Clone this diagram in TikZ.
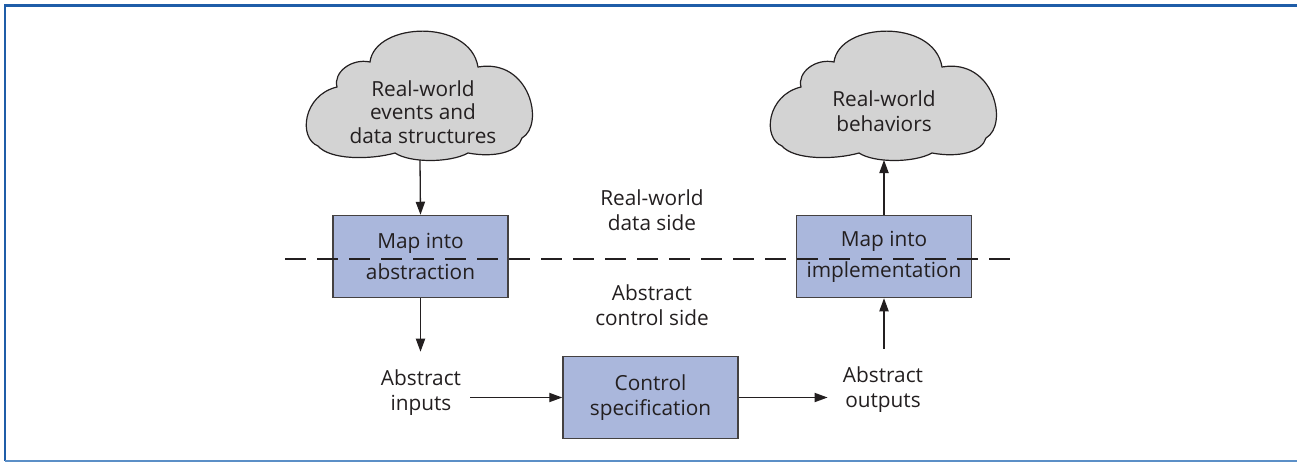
\documentclass[tikz,border=0pt]{standalone}
\usepackage{fontspec}
\setmainfont{Open Sans}
\usetikzlibrary{arrows.meta}

\definecolor{framedark}{HTML}{1F5DA8}
\definecolor{framelight}{HTML}{5B8FC7}
\definecolor{boxfill}{HTML}{AAB7DC}
\definecolor{cloudfill}{HTML}{D3D3D3}
\definecolor{ink}{HTML}{231F20}

% outline of a thought cloud, in picture units (y grows downwards)
\def\cloudoutline{(318,146)
  .. controls (298,138) and (303,95) .. (337,87)
  .. controls (333,72) and (352,58) .. (370,62)
  .. controls (375,22) and (470,18) .. (478,67)
  .. controls (530,58) and (545,125) .. (522,138)
  .. controls (518,152) and (495,158) .. (468,153)
  .. controls (450,163) and (410,163) .. (395,153)
  .. controls (370,160) and (330,160) .. cycle}

\tikzset{
  txt/.style={font=\fontsize{10.4}{12.5}\selectfont, text=ink, align=center, inner sep=0pt},
  mapbox/.style={draw=ink!85, line width=0.75pt, fill=boxfill,
    minimum width=87.5pt, minimum height=41pt,
    font=\fontsize{10.4}{15.5}\selectfont, text=ink, align=center, inner sep=0pt},
  ctrlbox/.style={mapbox, font=\fontsize{10.4}{12.5}\selectfont},
  cloudbody/.style={draw=ink, line width=0.6pt, fill=cloudfill},
  flow/.style={draw=ink, line width=0.65pt, -{Triangle[length=6.5pt,width=4.6pt]}},
  sideline/.style={draw=ink, line width=0.6pt, dash pattern=on 10.5pt off 5.5pt},
}

\begin{document}
\begin{tikzpicture}[x=0.5pt, y=-0.5pt]
  \useasboundingbox (0,0) rectangle (1297,462);

  % frame
  \draw[framedark, line width=1.5pt] (4,5.3) -- (1297,5.3);
  \draw[framedark, line width=1.2pt] (5.2,4) -- (5.2,461);
  \draw[framelight, line width=0.8pt] (5,460.8) -- (1297,460.8);

  % clouds
  \path[cloudbody] \cloudoutline;
  \begin{scope}[shift={(464,0)}]
    \path[cloudbody] \cloudoutline;
  \end{scope}
  \coordinate (c1b) at (420,160);
  \coordinate (c2b) at (884,160);
  \node[txt, font=\fontsize{10.4}{11.8}\selectfont] (events) at (423,112)
    {Real-world\\events and\\data structures};
  \node[txt] (behav) at (884,111) {Real-world\\behaviors};

  % boxes
  \node[mapbox] (abst) at (420.5,256.5) {Map into\\abstraction};
  \node[mapbox] (impl) at (884,256.5) {Map into\\implementation};
  \node[ctrlbox] (ctrl) at (650.5,397.5) {Control\\specification};

  % boundary between the two sides
  \coordinate (dl) at (285,259);
  \coordinate (dr) at (1010,259);
  \draw[sideline] (dl) -- (dr);

  \node[txt] (datas) at (652,210) {Real-world\\data side};
  \node[txt] (ctrls) at (652,305) {Abstract\\control side};

  % abstract inputs and outputs
  \node[txt] (inputs) at (421,393) {Abstract\\inputs};
  \node[txt] (outputs) at (883,390) {Abstract\\outputs};

  % connectors
  \draw[flow] (c1b) -- (abst.north);
  \draw[flow, shorten >=9pt] (abst.south) -- (abst.south |- inputs.north);
  \draw[flow, shorten <=4.5pt] (inputs.east |- ctrl.west) -- (ctrl.west);
  \draw[flow, shorten >=7.5pt] (ctrl.east) -- (ctrl.east -| outputs.west);
  \draw[flow, shorten <=9pt] (impl.south |- outputs.north) -- (impl.south);
  \draw[flow] (impl.north) -- (c2b);
\end{tikzpicture}
\end{document}
